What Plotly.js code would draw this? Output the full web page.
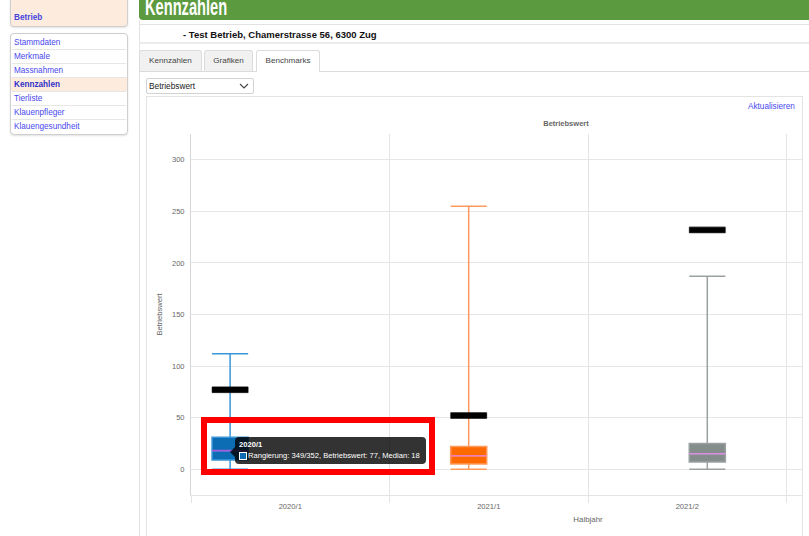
<!DOCTYPE html>
<html>
<head>
<meta charset="utf-8">
<script src="https://cdn.plot.ly/plotly-3.0.1.min.js"></script>
<style>
  html,body{margin:0;padding:0;}
  body{width:809px;height:536px;overflow:hidden;position:relative;background:#fff;
       font-family:"Liberation Sans",Arial,Helvetica,sans-serif;}
  .a{position:absolute;white-space:nowrap;}
  .menu{font-size:8.2px;color:#4747ee;line-height:14px;}
  .tab{position:absolute;top:50px;height:21px;box-sizing:border-box;border:1px solid #dcdcdc;
       border-bottom:none;border-radius:3px 3px 0 0;background:#f1f1f1;font-size:8.1px;color:#444;
       line-height:20px;text-align:center;}
</style>
</head>
<body>
<!-- sidebar -->
<div class="a" style="left:10px;top:-6px;width:116px;height:31px;background:#fdebdd;border:1px solid #cfcfcf;border-radius:4px;box-shadow:0 1px 2px rgba(0,0,0,0.12);"></div>
<div class="a menu" style="left:14px;top:11px;font-weight:bold;color:#4444dd;">Betrieb</div>

<div class="a" style="left:10px;top:33px;width:116px;height:100px;border:1px solid #cfcfcf;border-radius:4px;box-shadow:0 1px 2px rgba(0,0,0,0.12);background:#fff;"></div>
<div class="a" style="left:11px;top:77px;width:116px;height:14px;background:#fdebdd;"></div>
<div class="a" style="left:12px;top:49px;width:114px;height:1px;background:#e6e6e6;"></div>
<div class="a" style="left:12px;top:63px;width:114px;height:1px;background:#e6e6e6;"></div>
<div class="a" style="left:12px;top:77px;width:114px;height:1px;background:#e6e6e6;"></div>
<div class="a" style="left:12px;top:91px;width:114px;height:1px;background:#e6e6e6;"></div>
<div class="a" style="left:12px;top:105px;width:114px;height:1px;background:#e6e6e6;"></div>
<div class="a" style="left:12px;top:119px;width:114px;height:1px;background:#e6e6e6;"></div>
<div class="a menu" style="left:14px;top:35.5px;">Stammdaten</div>
<div class="a menu" style="left:14px;top:49.5px;">Merkmale</div>
<div class="a menu" style="left:14px;top:63.5px;">Massnahmen</div>
<div class="a menu" style="left:14px;top:77.5px;font-weight:bold;color:#3030c8;">Kennzahlen</div>
<div class="a menu" style="left:14px;top:91.5px;">Tierliste</div>
<div class="a menu" style="left:14px;top:105.5px;">Klauenpfleger</div>
<div class="a menu" style="left:14px;top:119.5px;">Klauengesundheit</div>

<!-- main header -->
<div class="a" style="left:139px;top:0;width:670px;height:20px;background:#5c9a3f;border-radius:0 0 0 4px;overflow:hidden;">
  <div class="a" style="left:6px;top:-5px;font-size:24px;line-height:24px;font-weight:bold;color:#fff;transform:scaleX(0.61);transform-origin:left top;">Kennzahlen</div>
</div>
<div class="a" style="left:139px;top:20px;width:1px;height:516px;background:#e4e4e4;"></div>
<div class="a" style="left:139px;top:24px;width:670px;height:1px;background:#e2e2e2;"></div>
<div class="a" style="left:183px;top:28px;font-size:9.5px;line-height:13px;font-weight:bold;color:#111;">- Test Betrieb, Chamerstrasse 56, 6300 Zug</div>
<div class="a" style="left:139px;top:42px;width:670px;height:2px;background:#ececec;"></div>

<!-- tabs -->
<div class="a" style="left:139px;top:71px;width:670px;height:1px;background:#dcdcdc;"></div>
<div class="tab" style="left:139px;width:63px;">Kennzahlen</div>
<div class="tab" style="left:204px;width:49px;">Grafiken</div>
<div class="tab" style="left:256px;width:64px;height:22px;background:#fff;">Benchmarks</div>

<!-- select -->
<div class="a" style="left:146px;top:78px;width:106px;height:14px;border:1px solid #d2d2d2;border-radius:2px;background:#fff;"></div>
<div class="a" style="left:149px;top:79px;font-size:8.3px;line-height:14px;color:#222;">Betriebswert</div>
<svg class="a" style="left:239px;top:82px;" width="10" height="8"><polyline points="1,2 5,6 9,2" fill="none" stroke="#444" stroke-width="1.1"/></svg>

<!-- chart container -->
<div class="a" style="left:146px;top:96px;width:655px;height:460px;border:1px solid #e3e3e3;overflow:hidden;background:#fff;">
  <div id="chart" style="position:absolute;left:0;top:0;width:838px;height:436px;"></div>
</div>
<div class="a" style="left:748px;top:101px;font-size:8.2px;line-height:12px;color:#4848f0;">Aktualisieren</div>

<!-- tooltip overlay -->
<div class="a" style="left:230px;top:447px;width:0;height:0;border-top:5px solid transparent;border-bottom:5px solid transparent;border-right:5px solid rgba(0,0,0,0.8);z-index:5;"></div>
<div class="a" id="tip" style="left:235px;top:437px;width:191px;height:27px;background:rgba(0,0,0,0.8);border-radius:4px;z-index:5;">
  <div class="a" id="tipTitle" style="left:4px;top:2px;font-size:7.6px;line-height:11px;font-weight:bold;color:#fff;"></div>
  <div class="a" id="tipBox" style="left:4px;top:15px;width:6px;height:6px;border:1px solid #fff;"></div>
  <div class="a" id="tipBody" style="left:13px;top:13px;font-size:7.6px;line-height:11px;color:#fff;"></div>
</div>
<div class="a" style="left:201px;top:417px;width:222px;height:46px;border:6px solid #ff0000;z-index:6;"></div>

<script>
// ---- data ----
const categories   = ['2020/1', '2021/1', '2021/2', '2022/1'];
const tickLabels   = ['2020/1', '2021/1', '2021/2', ''];
const lowerWhisker = [0, 0, 0];
const q1           = [9, 5, 7];
const median       = [18, 13, 15];
const q3           = [31, 22, 25];
const upperWhisker = [112, 255, 187];
const betriebswert = [77, 52, 232];
const rangierung   = ['349/352'];
const yTicks       = [0, 50, 100, 150, 200, 250, 300];

// ---- styles ----
const fillColors   = ['#0c6db5', '#ff6a00', '#858c8c'];
const lineColors   = ['#3a96d8', '#ff9a5e', '#9ba1a1'];
const medianColors = ['#a35ddb', '#ee7fbd', '#da8ce2'];
const markerHalf = 2.7;  // half thickness of the black Betriebswert marker (in axis units)
const FONT = '"Liberation Sans", Arial, sans-serif';

const traces = [];
for (let i = 0; i < q1.length; i++) {
  const g = 'g' + i;
  traces.push({
    type: 'box', x: [categories[i]],
    q1: [q1[i]], median: [median[i]], q3: [q3[i]],
    lowerfence: [lowerWhisker[i]], upperfence: [upperWhisker[i]],
    fillcolor: fillColors[i], line: {color: lineColors[i], width: 1.5},
    whiskerwidth: 1, boxpoints: false, offsetgroup: g, alignmentgroup: 'a',
    showlegend: false, hoverinfo: 'skip'
  });
  traces.push({
    type: 'box', x: [categories[i]],
    q1: [median[i]], median: [median[i]], q3: [median[i]],
    lowerfence: [median[i]], upperfence: [median[i]],
    fillcolor: 'rgba(0,0,0,0)', line: {color: medianColors[i], width: 1.6},
    whiskerwidth: 1, boxpoints: false, offsetgroup: g, alignmentgroup: 'a',
    showlegend: false, hoverinfo: 'skip'
  });
  traces.push({
    type: 'box', x: [categories[i]],
    q1: [betriebswert[i] - markerHalf], median: [betriebswert[i]], q3: [betriebswert[i] + markerHalf],
    lowerfence: [betriebswert[i] - markerHalf], upperfence: [betriebswert[i] + markerHalf],
    fillcolor: '#000', line: {color: '#000', width: 0.5},
    whiskerwidth: 1, boxpoints: false, offsetgroup: g, alignmentgroup: 'a',
    showlegend: false, hoverinfo: 'skip'
  });
}
// empty fourth dataset slot (2022/1 lies outside the visible area)
traces.push({
  type: 'box', x: [categories[3]], q1: [0], median: [0], q3: [0], lowerfence: [0], upperfence: [0],
  fillcolor: 'rgba(0,0,0,0)', line: {color: 'rgba(0,0,0,0)', width: 0},
  boxpoints: false, offsetgroup: 'g3', alignmentgroup: 'a', showlegend: false, hoverinfo: 'skip'
});

const layout = {
  width: 838, height: 436,
  margin: {l: 44, r: 0, t: 37, b: 38},
  paper_bgcolor: '#fff', plot_bgcolor: '#fff',
  font: {family: FONT, size: 7.6, color: '#666'},
  boxmode: 'group', boxgap: 0.192, boxgroupgap: 0.1,
  showlegend: false,
  title: {text: 'Betriebswert', font: {family: FONT, size: 7.5, color: '#666', weight: 'bold'},
          x: 0.5, xref: 'container', xanchor: 'center', y: 0.94, yref: 'container', yanchor: 'middle'},
  xaxis: {
    type: 'category', categoryorder: 'array', categoryarray: categories,
    tickmode: 'array', tickvals: categories, ticktext: tickLabels,
    range: [-0.5, 3.5], tickson: 'boundaries', ticks: 'outside', ticklen: 7,
    tickcolor: '#e4e4e4', tickwidth: 1, showgrid: true, gridcolor: '#e4e4e4', gridwidth: 1,
    showline: true, linecolor: '#e4e4e4', linewidth: 1, zeroline: false, ticklabelstandoff: 4,
    tickfont: {family: FONT, size: 7.6, color: '#666'},
    title: {text: 'Halbjahr', font: {family: FONT, size: 7.9, color: '#666'}, standoff: 6}
  },
  yaxis: {
    range: [-25, 325], tickmode: 'array', tickvals: yTicks, ticktext: yTicks.map(String),
    showgrid: true, gridcolor: '#e6e6e6', gridwidth: 1, zeroline: false,
    showline: true, linecolor: '#d6d6d6', linewidth: 1, ticks: '', ticklabelstandoff: 4,
    tickfont: {family: FONT, size: 7.5, color: '#666'},
    title: {text: 'Betriebswert', font: {family: FONT, size: 7.6, color: '#666'}, standoff: 8}
  }
};

Plotly.newPlot('chart', traces, layout, {displayModeBar: false, staticPlot: true});

// tooltip text from data
document.getElementById('tipTitle').textContent = categories[0];
document.getElementById('tipBox').style.background = fillColors[0];
document.getElementById('tipBody').textContent =
  'Rangierung: ' + rangierung[0] + ', Betriebswert: ' + betriebswert[0] + ', Median: ' + median[0];
</script>
</body>
</html>
